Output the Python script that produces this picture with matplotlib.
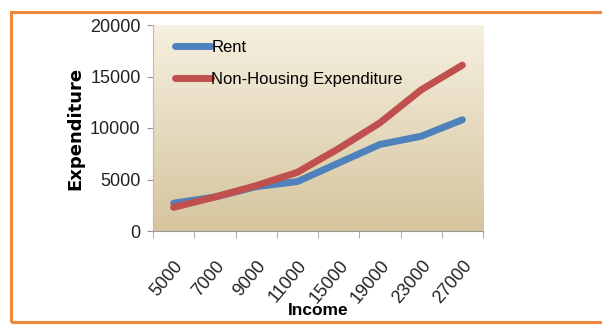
import numpy as np
import matplotlib.pyplot as plt
from matplotlib.colors import LinearSegmentedColormap
from matplotlib.patches import Rectangle

plt.rcParams['font.family'] = ['Liberation Sans Narrow', 'Liberation Sans', 'DejaVu Sans']

# data
income = ['5000', '7000', '9000', '11000', '15000', '19000', '23000', '27000']
rent = [2700, 3300, 4300, 4800, 6600, 8400, 9200, 10800]
non_housing = [2300, 3300, 4400, 5700, 8000, 10500, 13700, 16100]

fig = plt.figure(figsize=(6.02, 3.25), dpi=100)
ax = fig.add_axes([153/602, 1 - 231/325, 330/602, 206/325])

# orange frame round the chart
fig.patches.append(Rectangle((11/602, 1 - 322/325), 600/602, 310/325,
                             transform=fig.transFigure, fill=False,
                             edgecolor='#F0883C', linewidth=2.2))

x = np.arange(len(income))

# tan gradient plot area, light at top
grad = np.linspace(0, 1, 100).reshape(-1, 1)
cmap = LinearSegmentedColormap.from_list('tan', ['#F6F0E0', '#D6C59E'])
ax.imshow(grad, extent=[-0.5, len(income) - 0.5, 0, 20000], aspect='auto',
          cmap=cmap, origin='upper', zorder=0)

ax.plot(x, rent, color='#4F81BD', lw=5, solid_capstyle='round',
        solid_joinstyle='round', label='Rent', zorder=2)
ax.plot(x, non_housing, color='#C0504D', lw=5, solid_capstyle='round',
        solid_joinstyle='round', label='Non-Housing Expenditure', zorder=3)

ax.set_xlim(-0.5, len(income) - 0.5)
ax.set_ylim(0, 20000)
ax.set_yticks([0, 5000, 10000, 15000, 20000])
ax.tick_params(axis='y', labelsize=13, length=4, color='#999999', pad=5,
               labelcolor='#222222')

ax.set_xticks(x)
ax.set_xticklabels(income, rotation=50, ha='right', rotation_mode='anchor')
ax.set_xticks(np.arange(len(income) + 1) - 0.5, minor=True)
ax.tick_params(axis='x', which='major', length=0, labelsize=13, pad=19,
               labelcolor='#222222')
ax.tick_params(axis='x', which='minor', length=5, color='#999999')

for s in ['top', 'right']:
    ax.spines[s].set_visible(False)
ax.spines['left'].set_color('#BBBBBB')
ax.spines['bottom'].set_color('#999999')

ax.set_ylabel('Expenditure', fontsize=13, fontweight='bold',
              family=['DejaVu Sans'], labelpad=4)
ax.set_xlabel('Income', fontsize=12.5, fontweight='bold', labelpad=-3)

leg = ax.legend(loc='upper left', frameon=False, fontsize=12,
                handlelength=2.2, handletextpad=0.0, borderaxespad=0.5,
                labelspacing=1.0, bbox_to_anchor=(0.02, 1.0))

fig.savefig('out.png', dpi=100)
